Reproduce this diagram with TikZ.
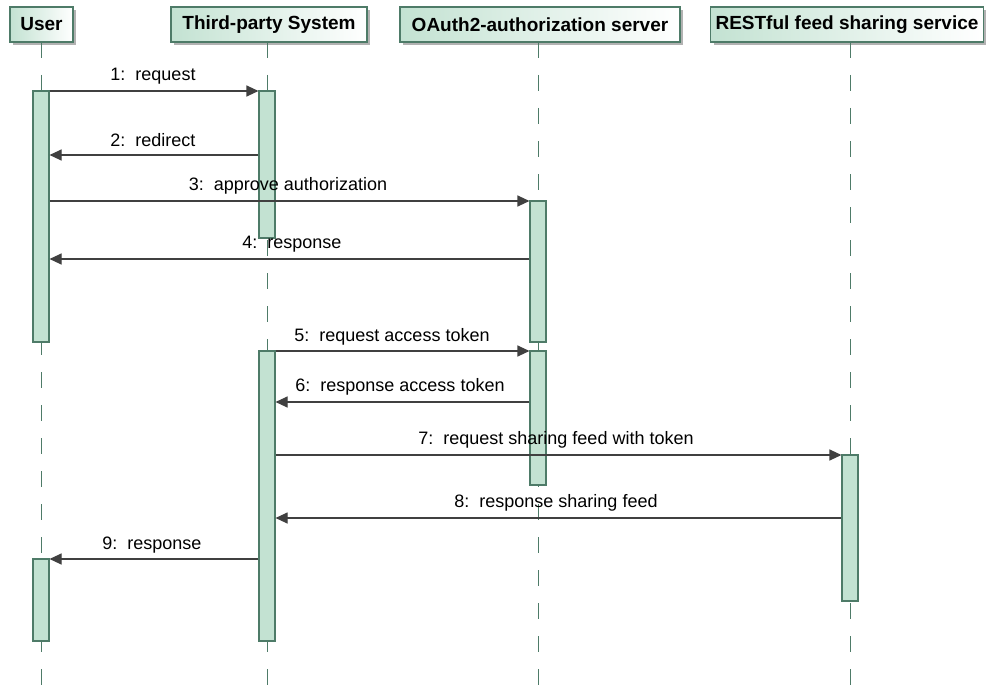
\documentclass[tikz,border=0pt]{standalone}
\usepackage{fontspec}
\setmainfont{Liberation Sans}
\usetikzlibrary{arrows.meta,shadows}
\definecolor{barfill}{HTML}{C3E2D2}
\definecolor{bardraw}{HTML}{4E7B68}
\definecolor{msgcol}{HTML}{404040}
\begin{document}
\begin{tikzpicture}[x=1pt,y=-1pt,
  head/.style={draw=bardraw,line width=1.2pt,left color=barfill,right color=white,
    inner sep=0pt,font=\bfseries\fontsize{19}{21}\selectfont,
    drop shadow={shadow xshift=3pt,shadow yshift=-3pt,fill=black!30,opacity=1}},
  lifeline/.style={draw=bardraw,line width=1pt,dash pattern=on 16pt off 17pt},
  actbar/.style={draw=bardraw,fill=barfill,line width=1.1pt,minimum width=16pt,inner sep=0pt},
  msg/.style={draw=msgcol,line width=1.1pt,-{Triangle[length=12pt,width=11pt]}},
  lbl/.style={font=\fontsize{18}{20}\selectfont,inner sep=0pt}]
\useasboundingbox (0,0) rectangle (986,685);
\fill[white] (0,0) rectangle (986,685);
% headers
\node[head,minimum width=63pt,minimum height=35pt] (user) at (41.5,24.5) {User};
\node[head,minimum width=196pt,minimum height=35pt] (tps) at (269,24.5) {Third-party System};
\node[head,minimum width=280pt,minimum height=35pt] (oas) at (540,24.5) {OAuth2-authorization server};
\node[head,minimum width=273pt,minimum height=35pt] (rfs) at (847,24.5) {RESTful feed sharing service};
% lifelines
\coordinate (bottom) at (0,685);
\coordinate (lu) at (41,42);
\coordinate (lt) at (267,42);
\coordinate (lo) at (538,42);
\coordinate (lr) at (850,42);
\draw[lifeline] (lu) -- (lu |- bottom);
\draw[lifeline] (lt) -- (lt |- bottom);
\draw[lifeline] (lo) -- (lo |- bottom);
\draw[lifeline] (lr) -- (lr |- bottom);
% activation bars
\node[actbar,minimum height=251pt] (u1) at (41,216.5) {};
\node[actbar,minimum height=82pt] (u2) at (41,600) {};
\node[actbar,minimum height=147pt] (t1) at (267,164.5) {};
\node[actbar,minimum height=290pt] (t2) at (267,496) {};
\node[actbar,minimum height=141pt] (o1) at (538,271.5) {};
\node[actbar,minimum height=134pt] (o2) at (538,418) {};
\node[actbar,minimum height=146pt] (r1) at (850,528) {};
% message levels
\coordinate (y1) at (0,91);
\coordinate (y2) at (0,155);
\coordinate (y3) at (0,201);
\coordinate (y4) at (0,259);
\coordinate (y5) at (0,351);
\coordinate (y6) at (0,402);
\coordinate (y7) at (0,455);
\coordinate (y8) at (0,518);
\coordinate (y9) at (0,559);
% messages
\draw[msg] (u1.east |- y1) -- (t1.west |- y1);
\node[lbl] (l1) at (153,76) {1:\ \ request};
\draw[msg] (t1.west |- y2) -- (u1.east |- y2);
\node[lbl] (l2) at (153,140) {2:\ \ redirect};
\draw[msg] (u1.east |- y3) -- (o1.west |- y3);
\node[lbl] (l3) at (288,186) {3:\ \ approve authorization};
\draw[msg] (o1.west |- y4) -- (u1.east |- y4);
\node[lbl] (l4) at (292,244) {4:\ \ response};
\draw[msg] (t2.east |- y5) -- (o2.west |- y5);
\node[lbl] (l5) at (392,337) {5:\ \ request access token};
\draw[msg] (o2.west |- y6) -- (t2.east |- y6);
\node[lbl] (l6) at (400,387) {6:\ \ response access token};
\draw[msg] (t2.east |- y7) -- (r1.west |- y7);
\node[lbl] (l7) at (556,440) {7:\ \ request sharing feed with token};
\draw[msg] (r1.west |- y8) -- (t2.east |- y8);
\node[lbl] (l8) at (556,503) {8:\ \ response sharing feed};
\draw[msg] (t2.west |- y9) -- (u2.east |- y9);
\node[lbl] (l9) at (152,545) {9:\ \ response};
\end{tikzpicture}
\end{document}
